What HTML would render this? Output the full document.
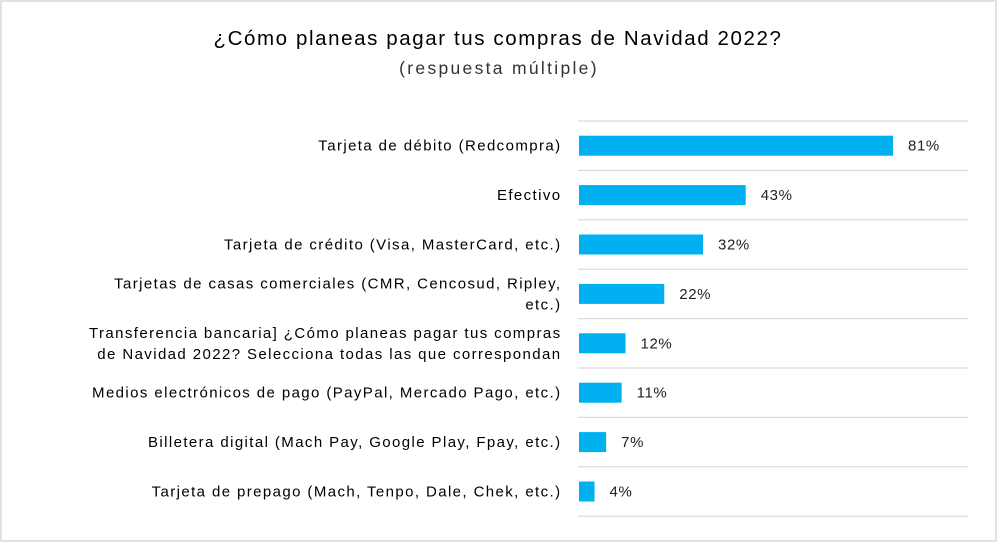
<!DOCTYPE html>
<html><head><meta charset="utf-8"><style>
html,body{margin:0;padding:0;background:#fff;}
svg{display:block;font-family:"Liberation Sans",sans-serif;}
</style></head><body>
<svg id="chart" width="1000" height="544" viewBox="0 0 1000 544">
<rect x="1" y="1" width="995" height="540" fill="#fff" stroke="#d9d9d9" stroke-width="1.5"/>
<text x="498" y="45" text-anchor="middle" font-size="20.5" letter-spacing="1.6" fill="#000">¿Cómo planeas pagar tus compras de Navidad 2022?</text>
<text x="499" y="74" text-anchor="middle" font-size="17.5" letter-spacing="2.3" fill="#333">(respuesta múltiple)</text>
<g id="grid"></g><g id="bars"></g>
</svg>
<script>
const categories=[["Tarjeta de débito (Redcompra)"],["Efectivo"],["Tarjeta de crédito (Visa, MasterCard, etc.)"],["Tarjetas de casas comerciales (CMR, Cencosud, Ripley,","etc.)"],["Transferencia bancaria] ¿Cómo planeas pagar tus compras","de Navidad 2022? Selecciona todas las que correspondan"],["Medios electrónicos de pago (PayPal, Mercado Pago, etc.)"],["Billetera digital (Mach Pay, Google Play, Fpay, etc.)"],["Tarjeta de prepago (Mach, Tenpo, Dale, Chek, etc.)"]];
const values=[81,43,32,22,12,11,7,4];
const valueLabels=["81%","43%","32%","22%","12%","11%","7%","4%"];
const NS="http://www.w3.org/2000/svg";
const x0=579,pxPer=314/81,top0=121,pitch=49.4;
const xS=v=>x0+v*pxPer;
const yS=i=>top0+i*pitch;
const grid=document.getElementById('grid'),bars=document.getElementById('bars');
function mk(tag,attrs,parent){const e=document.createElementNS(NS,tag);for(const k in attrs)e.setAttribute(k,attrs[k]);parent.appendChild(e);return e;}
for(let i=0;i<=values.length;i++){
  const l=mk('line',{x1:578,x2:968,y1:yS(i),y2:yS(i),stroke:'#d9d9d9','stroke-width':1.2},grid);
  
  
}
values.forEach((v,i)=>{
  const cy=yS(i)+pitch/2;
  const r=mk('rect',{x:x0,y:cy-10,width:xS(v)-x0,height:20,fill:'#00b0f0'},bars);
  
  
  const t=mk('text',{x:xS(v)+15,y:cy+5,'font-size':15,'letter-spacing':0.6,fill:'#222'},bars);
  t.textContent=valueLabels[i];
  
  
  const lines=categories[i];
  lines.forEach((s,j)=>{
    const ty=cy+5+(j-(lines.length-1)/2)*21;
    const c=mk('text',{x:561.5,y:ty,'text-anchor':'end','font-size':15,'letter-spacing':1.4,fill:'#000'},bars);
    c.textContent=s;
    
    
  });
});
</script>
</body></html>
